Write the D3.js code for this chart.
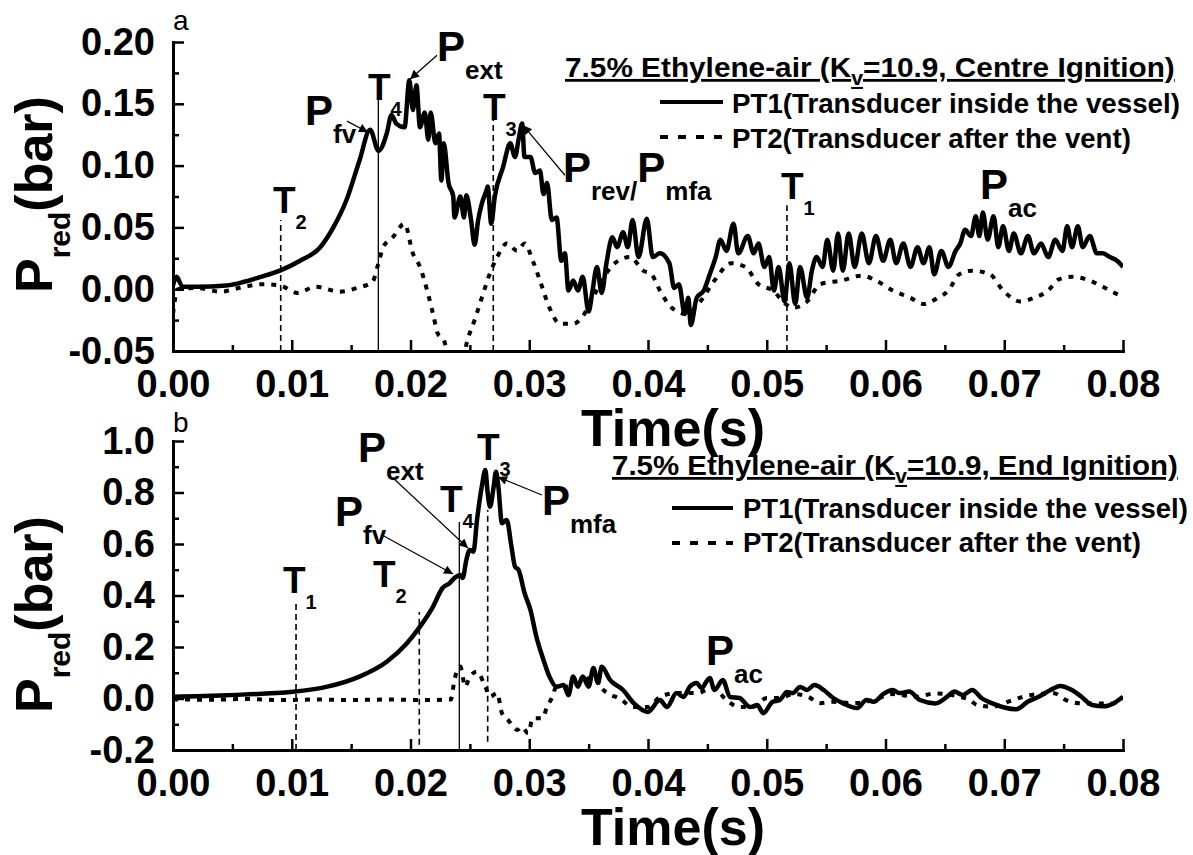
<!DOCTYPE html>
<html>
<head>
<meta charset="utf-8">
<script src="https://cdn.jsdelivr.net/npm/d3@7"></script>
<style>
  body { margin: 0; background: #fff; }
  svg text { font-family: "Liberation Sans", Arial, Helvetica, sans-serif; }
</style>
</head>
<body>
<div id="chart"></div>
<script>
// ---------- values ----------

// shared time axis
var xTicks = [0, 0.01, 0.02, 0.03, 0.04, 0.05, 0.06, 0.07, 0.08];
var xMinor = [0.005, 0.015, 0.025, 0.035, 0.045, 0.055, 0.065, 0.075];

// panel a (centre ignition) pressure axis
var yTicksA = [-0.05, 0, 0.05, 0.10, 0.15, 0.20];
var yMinorA = [-0.025, 0.025, 0.075, 0.125, 0.175];

// panel b (end ignition) pressure axis
var yTicksB = [-0.2, 0, 0.2, 0.4, 0.6, 0.8, 1.0];
var yMinorB = [-0.1, 0.1, 0.3, 0.5, 0.7, 0.9];

// panel a, PT1 (inside the vessel) [time s, pressure bar]
var pt1A = [
  [0, 0.003], [0.0003, 0.010], [0.0008, 0.002], [0.002, 0.002], [0.0045, 0.003],
  [0.006, 0.006], [0.0073, 0.0097], [0.009, 0.015], [0.0107, 0.023], [0.0124, 0.034],
  [0.0135, 0.050], [0.0146, 0.072], [0.0157, 0.104], [0.0166, 0.129], [0.0173, 0.112],
  [0.018, 0.126], [0.0184, 0.141], [0.0188, 0.134], [0.0195, 0.131], [0.0199, 0.169],
  [0.0202, 0.145], [0.0205, 0.165], [0.0208, 0.131], [0.0212, 0.143], [0.0215, 0.121],
  [0.0217, 0.143], [0.0221, 0.118], [0.0224, 0.126], [0.0226, 0.088], [0.0228, 0.118],
  [0.0232, 0.086], [0.0236, 0.075], [0.0237, 0.058], [0.0242, 0.075], [0.0245, 0.058],
  [0.0247, 0.076], [0.0251, 0.056], [0.0254, 0.036], [0.0257, 0.056], [0.026, 0.069],
  [0.0264, 0.080], [0.0265, 0.083], [0.0268, 0.053], [0.0271, 0.075], [0.0278, 0.099],
  [0.0284, 0.118], [0.0288, 0.107], [0.0291, 0.121], [0.0294, 0.134], [0.0296, 0.107],
  [0.0301, 0.107], [0.0305, 0.094], [0.0309, 0.096], [0.0312, 0.077], [0.0315, 0.086],
  [0.0319, 0.056], [0.0323, 0.058], [0.0327, 0.023], [0.033, 0.029], [0.0333, -0.001],
  [0.0337, 0.007], [0.0341, -0.001], [0.0345, 0.010], [0.035, -0.018], [0.0353, -0.003],
  [0.0357, 0.018], [0.0361, -0.003], [0.0365, 0.021], [0.037, 0.042], [0.0374, 0.034],
  [0.0379, 0.046], [0.0383, 0.034], [0.0387, 0.056], [0.0392, 0.026], [0.0399, 0.057],
  [0.0404, 0.026], [0.041, 0.029], [0.0418, 0.021], [0.0422, 0.001], [0.0426, 0.004],
  [0.0431, -0.020], [0.0434, -0.007], [0.0436, -0.029], [0.0441, -0.007], [0.0447, -0.001],
  [0.0452, 0.012], [0.0457, 0.026], [0.0461, 0.040], [0.0466, 0.031], [0.0472, 0.053],
  [0.0476, 0.029], [0.0484, 0.043], [0.0489, 0.029], [0.0493, 0.037], [0.0498, 0.018],
  [0.0502, 0.026], [0.0506, -0.001], [0.051, 0.018], [0.0515, -0.010], [0.0519, 0.021],
  [0.0524, -0.012], [0.0528, 0.018], [0.0534, -0.007], [0.0538, 0.015], [0.0542, 0.026],
  [0.0547, 0.018], [0.0551, 0.040], [0.0556, 0.015], [0.056, 0.045], [0.0564, 0.015],
  [0.0569, 0.045], [0.0574, 0.018], [0.058, 0.045], [0.0586, 0.021], [0.0592, 0.043],
  [0.0598, 0.023], [0.0604, 0.040], [0.0609, 0.021], [0.0615, 0.037], [0.0621, 0.018],
  [0.0627, 0.034], [0.0632, 0.021], [0.0637, 0.034], [0.0641, 0.012], [0.0647, 0.031],
  [0.0653, 0.018], [0.0659, 0.031], [0.0663, 0.037], [0.0667, 0.048], [0.0672, 0.043],
  [0.0676, 0.059], [0.0679, 0.043], [0.0682, 0.062], [0.0686, 0.040], [0.0691, 0.059],
  [0.0695, 0.034], [0.0699, 0.051], [0.0704, 0.031], [0.0708, 0.045], [0.0714, 0.029],
  [0.072, 0.043], [0.0725, 0.029], [0.0731, 0.037], [0.0737, 0.026], [0.0743, 0.040],
  [0.0749, 0.031], [0.0753, 0.051], [0.0757, 0.034], [0.0762, 0.051], [0.0766, 0.034],
  [0.0772, 0.043], [0.0778, 0.029], [0.0783, 0.029], [0.0789, 0.026], [0.0795, 0.023],
  [0.08, 0.018]
];

// panel a, PT2 (after the vent)
var pt2A = [
  [0, -0.020], [0.0004, 0.000], [0.002, 0.001], [0.004, -0.002], [0.006, 0.002],
  [0.0075, 0.004], [0.009, 0.003], [0.0105, -0.003], [0.012, 0.002], [0.014, -0.002],
  [0.0155, 0.001], [0.0168, 0.006], [0.0173, 0.021], [0.0177, 0.034], [0.0185, 0.042],
  [0.0195, 0.053], [0.0202, 0.029], [0.0208, 0.018], [0.0214, -0.001], [0.0219, -0.020],
  [0.0223, -0.036], [0.0228, -0.041], [0.0234, -0.062], [0.0242, -0.065], [0.0248, -0.041],
  [0.0254, -0.025], [0.0261, -0.004], [0.0267, 0.013], [0.0273, 0.026], [0.0281, 0.037],
  [0.029, 0.031], [0.0296, 0.037], [0.0303, 0.023], [0.0309, 0.007], [0.0317, -0.015],
  [0.0326, -0.028], [0.0337, -0.028], [0.0345, -0.022], [0.0354, -0.006], [0.0365, 0.013],
  [0.0372, 0.021], [0.0385, 0.026], [0.0396, 0.015], [0.0403, 0.012], [0.041, -0.001],
  [0.042, -0.015], [0.0432, -0.020], [0.0444, -0.010], [0.0456, 0.007], [0.047, 0.021],
  [0.0482, 0.018], [0.0493, 0.004], [0.0505, -0.001], [0.0516, -0.012], [0.0522, -0.015],
  [0.0534, -0.010], [0.0545, 0.004], [0.0563, 0.007], [0.058, 0.011], [0.0592, 0.007],
  [0.0606, -0.001], [0.0621, -0.007], [0.0632, -0.012], [0.0644, -0.007], [0.0653, -0.001],
  [0.0662, 0.012], [0.0673, 0.015], [0.0688, 0.012], [0.0699, -0.001], [0.0714, -0.010],
  [0.0725, -0.007], [0.0737, -0.001], [0.0746, 0.008], [0.0757, 0.010], [0.0772, 0.007],
  [0.0783, 0.002], [0.0795, -0.004], [0.08, -0.006]
];

// panel b, PT1 (inside the vessel)
var pt1B = [
  [0, 0.007], [0.0045, 0.013], [0.0101, 0.026], [0.013, 0.046], [0.0157, 0.085],
  [0.018, 0.143], [0.0197, 0.215], [0.0208, 0.279], [0.0219, 0.357], [0.0227, 0.429],
  [0.0233, 0.448], [0.0237, 0.468], [0.0242, 0.480], [0.0244, 0.468], [0.0247, 0.538],
  [0.025, 0.577], [0.0253, 0.570], [0.0256, 0.693], [0.026, 0.822], [0.0263, 0.887],
  [0.0265, 0.797], [0.0267, 0.745], [0.027, 0.822], [0.0272, 0.881], [0.0274, 0.822],
  [0.0277, 0.681], [0.0281, 0.693], [0.0285, 0.590], [0.0288, 0.512], [0.0291, 0.499],
  [0.0296, 0.410], [0.0301, 0.344], [0.0306, 0.240], [0.0312, 0.150], [0.0317, 0.085],
  [0.0323, 0.046], [0.0329, 0.052], [0.0333, 0.013], [0.0337, 0.085], [0.0341, 0.046],
  [0.0345, 0.085], [0.035, 0.046], [0.0354, 0.118], [0.0358, 0.060], [0.0361, 0.123],
  [0.0368, 0.072], [0.0379, 0.033], [0.0388, -0.018], [0.04, -0.052], [0.041, -0.006],
  [0.0416, -0.033], [0.0424, 0.021], [0.043, 0.006], [0.0435, 0.045], [0.0441, 0.060],
  [0.0445, 0.041], [0.0452, 0.080], [0.0456, 0.033], [0.0463, 0.072], [0.0469, 0.006],
  [0.0477, 0.002], [0.0486, -0.033], [0.0492, -0.025], [0.0497, -0.057], [0.0505, -0.013],
  [0.0511, -0.006], [0.0517, 0.025], [0.0522, 0.021], [0.0528, 0.045], [0.0534, 0.033],
  [0.054, 0.052], [0.0548, 0.033], [0.0556, 0.002], [0.0564, -0.018], [0.0576, -0.037],
  [0.0584, -0.006], [0.059, -0.013], [0.0598, 0.017], [0.0606, 0.033], [0.0612, 0.021],
  [0.062, 0.027], [0.0629, -0.006], [0.0642, -0.019], [0.0652, 0.007], [0.0658, 0.027],
  [0.0665, 0.014], [0.0673, 0.033], [0.0681, 0.001], [0.069, -0.019], [0.07, -0.035],
  [0.071, -0.042], [0.072, -0.012], [0.0729, 0.007], [0.0739, 0.033], [0.0747, 0.049],
  [0.0757, 0.033], [0.0765, 0.007], [0.0774, -0.025], [0.0784, -0.030], [0.0792, -0.019],
  [0.08, 0.007]
];

// panel b, PT2 (after the vent)
var pt2B = [
  [0, -0.003], [0.003, -0.005], [0.006, -0.002], [0.009, -0.006], [0.012, -0.004],
  [0.015, -0.006], [0.018, -0.004], [0.021, -0.006], [0.0234, -0.004], [0.0237, 0.072],
  [0.0242, 0.124], [0.0246, 0.046], [0.025, 0.085], [0.0256, 0.104], [0.0263, 0.046],
  [0.0267, 0.007], [0.0273, 0.021], [0.0277, -0.057], [0.0282, -0.083], [0.029, -0.122],
  [0.0294, -0.110], [0.0299, -0.135], [0.0303, -0.077], [0.0311, -0.077], [0.0315, -0.032],
  [0.0319, 0.002], [0.0323, 0.046], [0.033, 0.046], [0.0343, 0.059], [0.0354, 0.085],
  [0.036, 0.045], [0.0378, -0.006], [0.0387, -0.033], [0.04, -0.033], [0.041, 0.006],
  [0.0424, 0.021], [0.0441, 0.021], [0.0455, 0.041], [0.0466, -0.006], [0.0477, -0.033],
  [0.0488, -0.033], [0.05, 0.002], [0.0511, 0.002], [0.0522, 0.017], [0.0535, 0.006],
  [0.0545, -0.018], [0.0556, -0.013], [0.0573, -0.018], [0.059, -0.006], [0.0606, 0.017],
  [0.0626, 0.007], [0.0642, 0.020], [0.0662, 0.007], [0.0671, -0.006], [0.0677, -0.025],
  [0.069, -0.032], [0.0707, -0.006], [0.0723, 0.014], [0.0742, 0.020], [0.0752, -0.006],
  [0.0765, -0.019], [0.0778, -0.019], [0.0791, -0.019], [0.08, 0.001]
];

// event times (T1..T4) drawn as vertical lines: time, lower and upper pressure
var markersA = [
  {label: "T2", t: 0.00907, from: -0.05, to: 0.056},
  {label: "T4", t: 0.01729, from: -0.05, to: 0.153},
  {label: "T3", t: 0.02697, from: -0.05, to: 0.137},
  {label: "T1", t: 0.0517, from: -0.05, to: 0.068}
];
var markersB = [
  {label: "T1", t: 0.01036, from: -0.2, to: 0.375},
  {label: "T2", t: 0.02074, from: -0.18, to: 0.336},
  {label: "T4", t: 0.02411, from: -0.2, to: 0.685},
  {label: "T3", t: 0.0265, from: -0.168, to: 0.732}
];

// text notes: anchor in data units, parts = [text, isSubscript]
var notesA = [
  {kind: "T", t: 0.00842, p: 0.0615, parts: [["T", 0], ["2", 1]]},
  {kind: "T", t: 0.01642, p: 0.153, parts: [["T", 0], ["4", 1]]},
  {kind: "P", t: 0.02223, p: 0.185, parts: [["P", 0], ["ext", 1]]},
  {kind: "P", t: 0.01112, p: 0.133, parts: [["P", 0], ["fv", 1]]},
  {kind: "T", t: 0.0261, p: 0.137, parts: [["T", 0], ["3", 1]]},
  {kind: "P", t: 0.03284, p: 0.0866, parts: [["P", 0], ["rev/", 1], ["P", 0], ["mfa", 1]]},
  {kind: "T", t: 0.0512, p: 0.0728, parts: [["T", 0], ["1", 1]]},
  {kind: "P", t: 0.06796, p: 0.0728, parts: [["P", 0], ["ac", 1]]}
];
var notesB = [
  {kind: "T", t: 0.00926, p: 0.41, parts: [["T", 0], ["1", 1]]},
  {kind: "T", t: 0.01684, p: 0.433, parts: [["T", 0], ["2", 1]]},
  {kind: "P", t: 0.01364, p: 0.670, parts: [["P", 0], ["fv", 1]]},
  {kind: "P", t: 0.01558, p: 0.919, parts: [["P", 0], ["ext", 1]]},
  {kind: "T", t: 0.02248, p: 0.724, parts: [["T", 0], ["4", 1]]},
  {kind: "T", t: 0.0256, p: 0.926, parts: [["T", 0], ["3", 1]]},
  {kind: "P", t: 0.03107, p: 0.713, parts: [["P", 0], ["mfa", 1]]},
  {kind: "P", t: 0.04488, p: 0.130, parts: [["P", 0], ["ac", 1]]}
];

// arrows from a note to the point it names: [t0, p0, t1, p1]
var arrowsA = [
  [0.02223, 0.1893, 0.01996, 0.1699],
  [0.01465, 0.136, 0.01642, 0.127],
  [0.0330, 0.0922, 0.02947, 0.1327]
];
var arrowsB = [
  [0.0176, 0.635, 0.02358, 0.4835],
  [0.01853, 0.8563, 0.02484, 0.5845],
  [0.03107, 0.7903, 0.02737, 0.8602]
];

// ---------- layout ----------
var W = 1193, H = 855;
var xLeft = 173, xRight = 1123;

var noteSize = {
  P: {main: 42, sub: 26, shift: 18},
  T: {main: 37, sub: 20, shift: 16}
};

var panels = [
  {
    name: "a", top: 42, bottom: 351, domain: [-0.05, 0.2], ticks: yTicksA, minor: yMinorA, digits: 2,
    pt1: pt1A, pt2: pt2A, markers: markersA, notes: notesA, arrows: arrowsA,
    letterY: 30, yTitleBottom: 293, timeY: 446, ignition: "Centre Ignition",
    legend: {titleX: 565, titleY: 77, titleW: 610, pt1X: 732, pt1Y: 113, pt1W: 448,
             pt2X: 732, pt2Y: 148, pt2W: 399, sampleX0: 660, sampleX1: 723, s1Y: 102, s2Y: 137}
  },
  {
    name: "b", top: 441, bottom: 750, domain: [-0.2, 1.0], ticks: yTicksB, minor: yMinorB, digits: 1,
    pt1: pt1B, pt2: pt2B, markers: markersB, notes: notesB, arrows: arrowsB,
    letterY: 432, yTitleBottom: 713, timeY: 845, ignition: "End Ignition",
    legend: {titleX: 612, titleY: 475, titleW: 566, pt1X: 743, pt1Y: 518, pt1W: 445,
             pt2X: 743, pt2Y: 552, pt2W: 398, sampleX0: 672, sampleX1: 733, s1Y: 508, s2Y: 543}
  }
];

// ---------- canvas ----------
var svg = d3.select("#chart")
  .append("svg")
  .attr("width", W)
  .attr("height", H);

var defs = svg.append("defs");

defs.append("marker")
  .attr("id", "arrowHead")
  .attr("viewBox", "0 0 10 10")
  .attr("refX", 10)
  .attr("refY", 5)
  .attr("markerWidth", 14)
  .attr("markerHeight", 9)
  .attr("markerUnits", "userSpaceOnUse")
  .attr("orient", "auto")
  .append("path")
  .attr("d", "M0,0L10,5L0,10z")
  .attr("fill", "#000");

var x = d3.scaleLinear().domain([0, 0.08]).range([xLeft, xRight]);

// squeeze or stretch a text so that it spans w pixels from (x0, y0)
function fitText(sel, x0, y0, w) {
  var bw = sel.node().getBBox().width;
  sel.attr("x", 0).attr("y", 0)
    .attr("transform", "translate(" + x0 + "," + y0 + ") scale(" + (w / bw) + ",1)");
}

function styleAxis(g) {
  g.attr("font-family", null).attr("font-size", null);
  g.select(".domain").attr("stroke-width", 3).attr("stroke-linecap", "square");
  g.selectAll(".tick line").attr("stroke-width", 2.5);
  g.selectAll(".tick text")
    .attr("font-size", 38)
    .attr("font-weight", "bold")
    .attr("fill", "#000");
}

function drawPanel(p) {
  var y = d3.scaleLinear().domain(p.domain).range([p.bottom, p.top]);
  var g = svg.append("g").attr("class", "panel-" + p.name);

  // clip the traces to the plotting box
  var clipId = "clip-" + p.name;
  defs.append("clipPath").attr("id", clipId)
    .append("rect")
    .attr("x", xLeft)
    .attr("y", p.top - 10)
    .attr("width", xRight - xLeft)
    .attr("height", p.bottom - p.top + 10);

  // event time lines
  g.selectAll(".event")
    .data(p.markers)
    .enter()
    .append("line")
    .attr("class", "event")
    .attr("x1", function(d) { return x(d.t); })
    .attr("x2", function(d) { return x(d.t); })
    .attr("y1", function(d) { return y(d.from); })
    .attr("y2", function(d) { return y(d.to); })
    .attr("stroke", "#000")
    .attr("stroke-width", function(d) { return d.label === "T4" ? 1.3 : 1.6; })
    .attr("stroke-dasharray", function(d) { return d.label === "T4" ? null : "6,4"; });

  var line = d3.line()
    .curve(d3.curveMonotoneX)
    .x(function(d) { return x(d[0]); })
    .y(function(d) { return y(d[1]); });

  // PT2 dashed
  g.append("path")
    .datum(p.pt2)
    .attr("d", line)
    .attr("fill", "none")
    .attr("stroke", "#000")
    .attr("stroke-width", 4)
    .attr("stroke-dasharray", "5,7")
    .attr("clip-path", "url(#" + clipId + ")");

  // PT1 solid
  g.append("path")
    .datum(p.pt1)
    .attr("d", line)
    .attr("fill", "none")
    .attr("stroke", "#000")
    .attr("stroke-width", 4.5)
    .attr("stroke-linejoin", "round")
    .attr("clip-path", "url(#" + clipId + ")");

  // axes, ticks pointing into the plot
  var fmtY = function(v) { return v.toFixed(p.digits); };
  g.append("g")
    .attr("transform", "translate(" + xLeft + ",0)")
    .call(d3.axisLeft(y).tickValues(p.minor).tickSize(-6).tickSizeOuter(0).tickFormat(""))
    .call(function(a) { a.select(".domain").remove(); a.selectAll("line").attr("stroke-width", 2.5); });
  g.append("g")
    .attr("transform", "translate(0," + p.bottom + ")")
    .call(d3.axisBottom(x).tickValues(xMinor).tickSize(-6).tickSizeOuter(0).tickFormat(""))
    .call(function(a) { a.select(".domain").remove(); a.selectAll("line").attr("stroke-width", 2.5); });

  g.append("g")
    .attr("transform", "translate(" + xLeft + ",0)")
    .call(d3.axisLeft(y).tickValues(p.ticks).tickSize(-11).tickSizeOuter(0).tickPadding(18).tickFormat(fmtY))
    .call(styleAxis);
  g.append("g")
    .attr("transform", "translate(0," + p.bottom + ")")
    .call(d3.axisBottom(x).tickValues(xTicks).tickSize(-11).tickSizeOuter(0).tickPadding(19)
      .tickFormat(function(v) { return v.toFixed(2); }))
    .call(styleAxis);

  // axis titles
  var yt = g.append("text")
    .attr("transform", "translate(52," + p.yTitleBottom + ") rotate(-90)")
    .attr("font-size", 52)
    .attr("font-weight", "bold");
  yt.append("tspan").text("P");
  yt.append("tspan").attr("font-size", 30).attr("dy", 18).text("red");
  yt.append("tspan").attr("dy", -18).text("(bar)");

  g.append("text")
    .attr("x", 673)
    .attr("y", p.timeY)
    .attr("text-anchor", "middle")
    .attr("font-size", 52)
    .attr("font-weight", "bold")
    .text("Time(s)");

  // panel letter
  g.append("text")
    .attr("x", xLeft)
    .attr("y", p.letterY)
    .attr("font-size", 28)
    .text(p.name);

  // notes with subscripts
  g.selectAll(".note")
    .data(p.notes)
    .enter()
    .append("text")
    .attr("class", "note")
    .attr("x", function(d) { return x(d.t); })
    .attr("y", function(d) { return y(d.p); })
    .attr("font-weight", "bold")
    .each(function(d) {
      var sz = noteSize[d.kind];
      var cur = 0;
      var t = d3.select(this);
      d.parts.forEach(function(part) {
        var target = part[1] ? sz.shift : 0;
        t.append("tspan")
          .attr("dy", target - cur)
          .attr("font-size", part[1] ? sz.sub : sz.main)
          .text(part[0]);
        cur = target;
      });
    });

  // arrows
  g.selectAll(".arrow")
    .data(p.arrows)
    .enter()
    .append("line")
    .attr("class", "arrow")
    .attr("x1", function(d) { return x(d[0]); })
    .attr("y1", function(d) { return y(d[1]); })
    .attr("x2", function(d) { return x(d[2]); })
    .attr("y2", function(d) { return y(d[3]); })
    .attr("stroke", "#000")
    .attr("stroke-width", 1.2)
    .attr("marker-end", "url(#arrowHead)");

  // legend block
  var L = p.legend;
  var title = g.append("text")
    .attr("font-size", 28)
    .attr("font-weight", "bold")
    .style("text-decoration", "underline");
  title.append("tspan").text("7.5% Ethylene-air (K");
  title.append("tspan").attr("font-size", 20).attr("dy", 8).text("v");
  title.append("tspan").attr("dy", -8).text("=10.9, " + p.ignition + ")");
  fitText(title, L.titleX, L.titleY, L.titleW);

  var t1 = g.append("text")
    .attr("font-size", 28)
    .attr("font-weight", "bold")
    .text("PT1(Transducer inside the vessel)");
  fitText(t1, L.pt1X, L.pt1Y, L.pt1W);

  var t2 = g.append("text")
    .attr("font-size", 28)
    .attr("font-weight", "bold")
    .text("PT2(Transducer after the vent)");
  fitText(t2, L.pt2X, L.pt2Y, L.pt2W);

  g.append("line")
    .attr("x1", L.sampleX0).attr("x2", L.sampleX1)
    .attr("y1", L.s1Y).attr("y2", L.s1Y)
    .attr("stroke", "#000")
    .attr("stroke-width", 4);
  g.append("line")
    .attr("x1", L.sampleX0).attr("x2", L.sampleX1)
    .attr("y1", L.s2Y).attr("y2", L.s2Y)
    .attr("stroke", "#000")
    .attr("stroke-width", 4)
    .attr("stroke-dasharray", "8,10");
}

panels.forEach(drawPanel);
</script>
</body>
</html>
